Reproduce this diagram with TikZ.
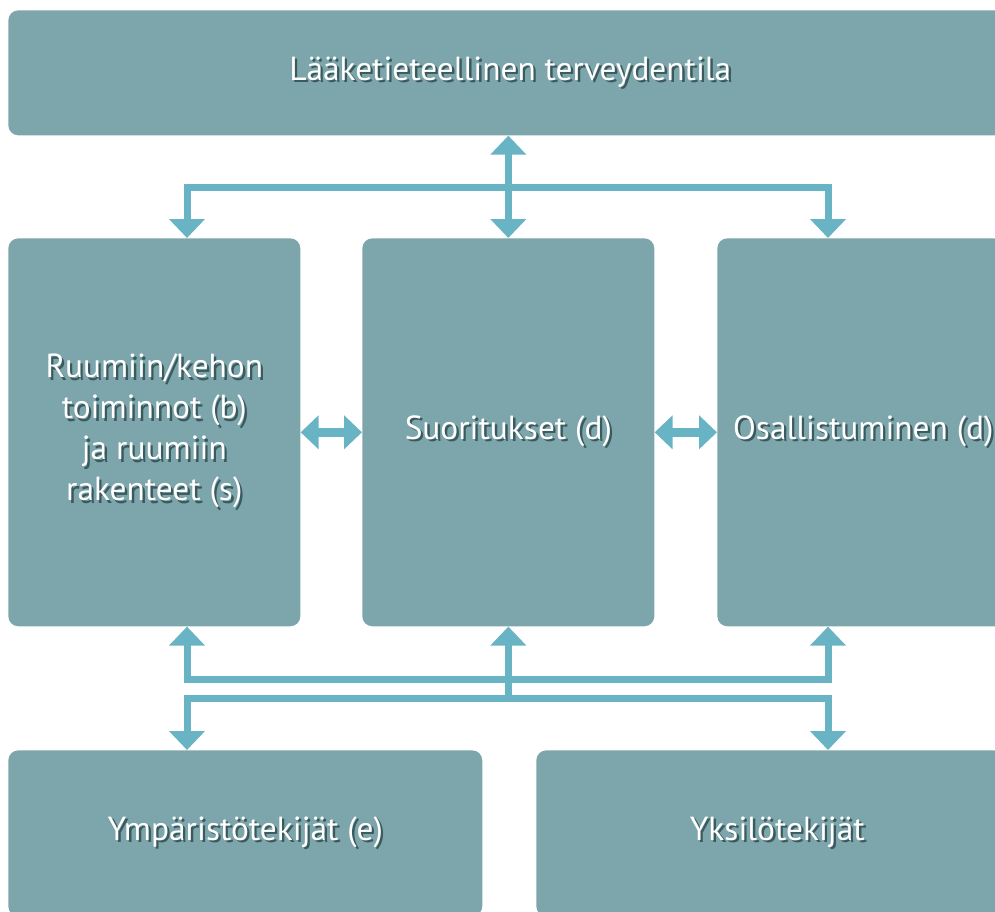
\documentclass[tikz,border=0pt]{standalone}
\usepackage{fontspec}
\setmainfont{PT Sans}
\usetikzlibrary{arrows.meta}
\definecolor{boxfill}{HTML}{7CA6AB}
\definecolor{linkblue}{HTML}{68B4C5}
\definecolor{shade}{HTML}{3B5A5E}
% white text with a small dark shadow
\newcommand{\shtxt}[1]{\leavevmode\rlap{\kern0.07em\raisebox{-0.07em}{\color{shade}#1}}#1}
\tikzset{
  box/.style={fill=boxfill, rounded corners=0.2cm, anchor=north west,
    text=white, align=center, inner sep=0pt,
    font=\fontsize{19}{23.3}\selectfont},
  conn/.style={draw=linkblue, line width=0.14cm,
    >={Triangle[length=0.38cm,width=0.7cm]}},
  hconn/.style={draw=linkblue, line width=0.18cm,
    >={Triangle[length=0.36cm,width=0.66cm]}}
}
\begin{document}
\begin{tikzpicture}[x=0.02cm,y=-0.02cm]
  \useasboundingbox (0,0) rectangle (995,912);
  \node[box, minimum width=20.08cm, minimum height=2.5cm] (health) at (8,10)
    {\shtxt{Lääketieteellinen terveydentila}};
  \node[box, minimum width=5.84cm, minimum height=7.76cm] (body) at (8,238)
    {\shtxt{Ruumiin/kehon}\\ \shtxt{toiminnot (b)}\\ \shtxt{ja ruumiin}\\ \shtxt{rakenteet (s)}};
  \node[box, minimum width=5.84cm, minimum height=7.76cm] (act) at (362,238)
    {\shtxt{Suoritukset (d)}};
  \node[box, minimum width=5.84cm, minimum height=7.76cm] (part) at (717,238)
    {\shtxt{Osallistuminen (d)}};
  \node[box, minimum width=9.48cm, minimum height=3.32cm] (env) at (8,750)
    {\shtxt{Ympäristötekijät (e)}};
  \node[box, minimum width=9.64cm, minimum height=3.32cm] (pers) at (536,750)
    {\shtxt{Yksilötekijät}};
  % junctions of the bars
  \coordinate (tl) at (187,188);
  \coordinate (tr) at (828,188);
  \coordinate (ul) at (187,679);
  \coordinate (ur) at (828,679);
  \coordinate (ll) at (187,698);
  \coordinate (lr) at (828,698);
  \begin{scope}
    \draw[conn,<->] (health.south -| act.north) -- (act.north);
    \draw[conn,<->] (tl |- body.north) -- (tl) -- (tr) -- (tr |- part.north);
    \draw[conn,<->] (ul |- body.south) -- (ul) -- (ur) -- (ur |- part.south);
    \draw[conn,->] (ll -| act.south) -- (act.south);
    \draw[conn,<->] (ll |- env.north) -- (ll) -- (lr) -- (lr |- pers.north);
    \draw[hconn,<->] (body.east) -- (act.west);
    \draw[hconn,<->] (act.east) -- (part.west);
  \end{scope}
\end{tikzpicture}
\end{document}
